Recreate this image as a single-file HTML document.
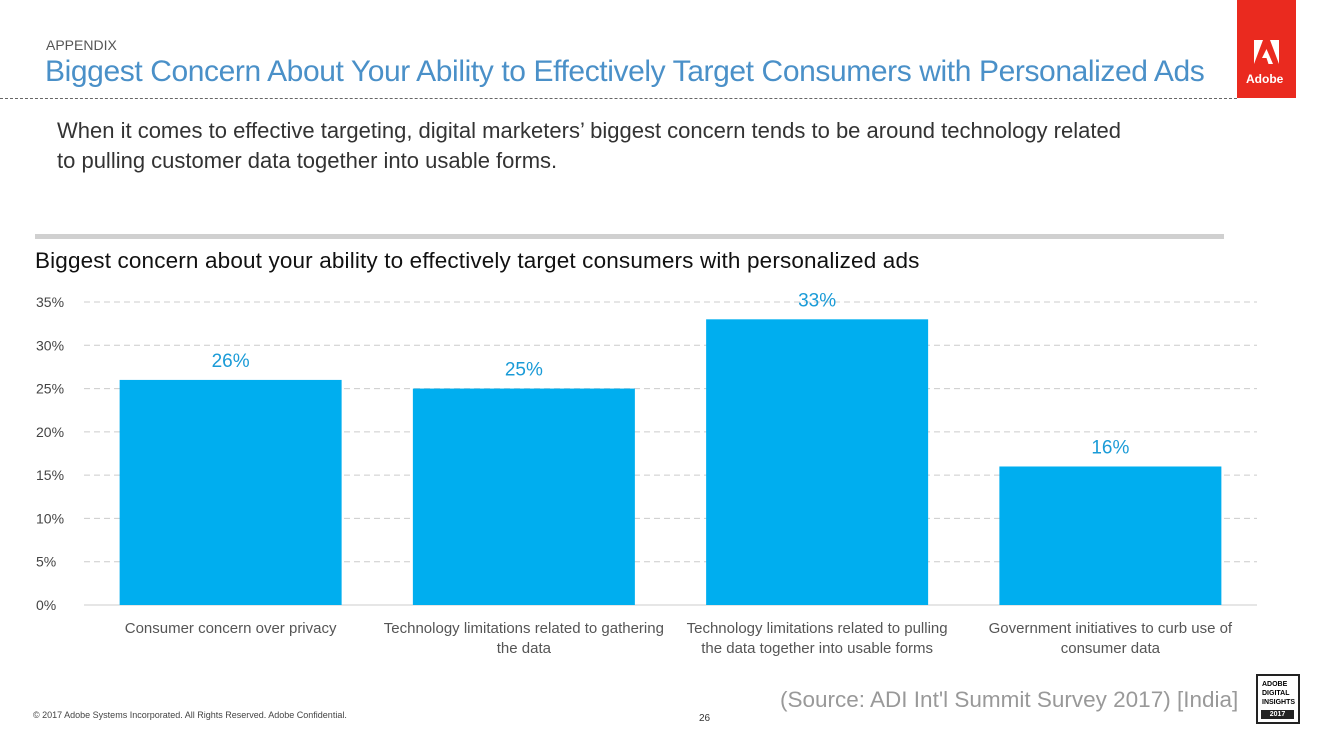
<!DOCTYPE html>
<html><head><meta charset="utf-8"><style>
body{margin:0;width:1333px;height:750px;background:#fff;font-family:"Liberation Sans",sans-serif;position:relative;overflow:hidden}
.a{position:absolute;white-space:nowrap}
</style></head><body>
<div class="a" style="left:46px;top:37px;font-size:14px;color:#555">APPENDIX</div>
<div class="a" style="left:45px;top:55px;font-size:30px;color:#4a90c8;letter-spacing:-0.4px">Biggest Concern About Your Ability to Effectively Target Consumers with Personalized Ads</div>
<div class="a" style="left:0;top:98px;width:1237px;border-top:1px dashed #666"></div>
<div class="a" style="left:1237px;top:0;width:59px;height:98px;background:#ea2a1f">
<svg width="59" height="98" style="position:absolute;left:0;top:0"><polygon points="17,40 26,40 17,64" fill="#fff"/><polygon points="33,40 42,40 42,64" fill="#fff"/><polygon points="29.5,49 36,64 31.5,64 29.5,58 25,58" fill="#fff"/></svg>
<div class="a" style="left:9px;top:72px;font-size:12px;font-weight:bold;color:#fff">Adobe</div></div>
<div class="a" style="left:57px;top:116px;font-size:22px;color:#333;line-height:30px">When it comes to effective targeting, digital marketers’ biggest concern tends to be around technology related<br>to pulling customer data together into usable forms.</div>
<div class="a" style="left:35px;top:234px;width:1189px;height:5px;background:#d0d0d0"></div>
<div class="a" style="left:35px;top:248px;font-size:22.5px;color:#111;letter-spacing:0.15px">Biggest concern about your ability to effectively target consumers with personalized ads</div>
<svg class="a" id="chart" style="left:0;top:0" width="1333" height="750"></svg>
<div class="a" style="left:33px;top:710px;font-size:9px;color:#444">© 2017 Adobe Systems Incorporated.  All Rights Reserved.  Adobe Confidential.</div>
<div class="a" style="left:699px;top:713px;font-size:10px;color:#333">26</div>
<div class="a" style="left:780px;top:687px;font-size:22.5px;color:#999">(Source: ADI Int'l Summit Survey 2017) [India]</div>
<div class="a" style="left:1256px;top:674px;width:44px;height:50px;border:2px solid #222;font-size:7px;font-weight:bold;line-height:9px;padding:4px 0 0 4px;box-sizing:border-box">ADOBE<br>DIGITAL<br>INSIGHTS<div style="background:#222;color:#fff;text-align:center;margin:3px 4px 0 -1px;font-size:7px">2017</div></div>
<script>
const categories=[["Consumer concern over privacy"],["Technology limitations related to gathering","the data"],["Technology limitations related to pulling","the data together into usable forms"],["Government initiatives to curb use of","consumer data"]];
const values=[26,25,33,16];
const ticks=[0,5,10,15,20,25,30,35];
const svg=document.getElementById('chart');const NS='http://www.w3.org/2000/svg';
const x0=84,x1=1257,y0=605,yTop=302,vmax=35;
const y=v=>y0-(v/vmax)*(y0-yTop);
const bw=(x1-x0)/categories.length;
function mk(t,a,p){const e=document.createElementNS(NS,t);for(const k in a)e.setAttribute(k,a[k]);(p||svg).appendChild(e);return e;}
ticks.forEach(t=>{
const l=mk('line',{x1:x0,x2:x1,y1:y(t),y2:y(t),stroke:'#ccc','stroke-dasharray':t?'6,4':'none'});


const tx=mk('text',{x:36,y:y(t)+5,'font-size':14,fill:'#444','font-family':'Liberation Sans'});tx.textContent=t+'%';


});
values.forEach((v,i)=>{
const cx=x0+bw*(i+0.5),w=222;
const r=mk('rect',{x:cx-w/2,y:y(v),width:w,height:y0-y(v),fill:'#00aeef'});


const t=mk('text',{x:cx,y:y(v)-13,'text-anchor':'middle','font-size':19,fill:'#1a9bd7','font-family':'Liberation Sans'});t.textContent=v+'%';


categories[i].forEach((s,j)=>{const c=mk('text',{x:cx,y:633+j*20,'text-anchor':'middle','font-size':15,fill:'#555','font-family':'Liberation Sans'});c.textContent=s;

});
});
</script>
</body></html>
